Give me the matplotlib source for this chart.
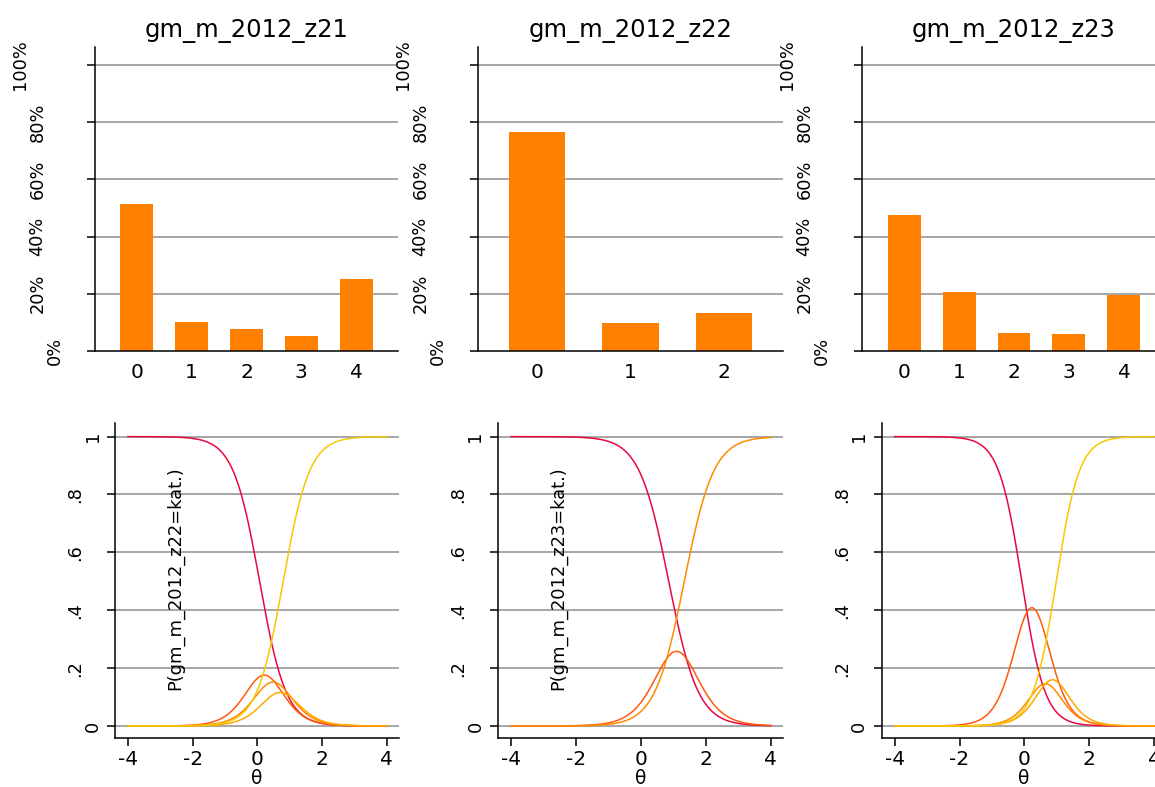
import numpy as np
import matplotlib
matplotlib.use("Agg")
import matplotlib.pyplot as plt
from matplotlib import transforms

plt.rcParams['font.family'] = ['DejaVu Sans']

# ---- figure size (pixels at 100 dpi) ----
W, H = 1155, 787
DPI = 100

# ---- item names ----
items = ["gm_m_2012_z21", "gm_m_2012_z22", "gm_m_2012_z23"]

# ---- observed response distributions (percent) ----
cats_z21 = [0, 1, 2, 3, 4]
pct_z21 = [51.4, 10.1, 7.8, 5.2, 25.2]

cats_z22 = [0, 1, 2]
pct_z22 = [76.6, 9.8, 13.3]

cats_z23 = [0, 1, 2, 3, 4]
pct_z23 = [47.6, 20.6, 6.3, 5.8, 19.5]

# ---- graded response model estimates (discrimination, thresholds) ----
a_z21 = 2.45
b_z21 = [0.07, 0.36, 0.61, 0.80]

a_z22 = 2.2
b_z22 = [0.86, 1.34]

a_z23 = 2.8
b_z23 = [-0.08, 0.54, 0.75, 0.98]

# y titles of the curve panels
curve_ytitles = ["P(gm_m_2012_z22=kat.)", "P(gm_m_2012_z23=kat.)", ""]

# ---- tick labels ----
pct_ticks = [0, 20, 40, 60, 80, 100]
pct_ticklabels = ["0%", "20%", "40%", "60%", "80%", "100%"]
prob_ticks = [0, 0.2, 0.4, 0.6, 0.8, 1.0]
prob_ticklabels = ["0", ".2", ".4", ".6", ".8", "1"]
theta_ticks = [-4, -2, 0, 2, 4]
theta_ticklabels = ["-4", "-2", "0", "2", "4"]

# ---- styling ----
bar_color = "#FF8000"
cat_colors = ["#E8083E", "#FF5A0A", "#FF8A00", "#FFA800", "#F5C800"]
grid_color = "#8E8E8E"
LW = 1.1
TICK_FS = 14.5
YTICK_FS = 12.8
TITLE_FS = 17.5


def grm_probs(theta, a, b):
    """Category probabilities of a graded response model."""
    cum = [np.ones_like(theta)]
    for bk in b:
        cum.append(1.0 / (1.0 + np.exp(-a * (theta - bk))))
    cum.append(np.zeros_like(theta))
    return [cum[k] - cum[k + 1] for k in range(len(b) + 1)]


fig = plt.figure(figsize=(W / DPI, H / DPI), dpi=DPI)
fig.patch.set_facecolor("white")


def add_px_axes(x0, x1, y0, y1):
    return fig.add_axes([x0 / W, 1 - y1 / H, (x1 - x0) / W, (y1 - y0) / H])


def style_axes(ax):
    for s in ("top", "right"):
        ax.spines[s].set_visible(False)
    for s in ("left", "bottom"):
        ax.spines[s].set_linewidth(LW)
        ax.spines[s].set_color("black")
    ax.set_facecolor("white")


def rotated_yticklabels(ax, ticks, labels, size):
    ax.set_yticks(ticks)
    ax.set_yticklabels([])
    base = transforms.blended_transform_factory(ax.transAxes, ax.transData)
    for t, lab in zip(ticks, labels):
        dx = -(5 + 17.5 * len(lab)) / DPI
        tr = base + transforms.ScaledTranslation(dx, 0, fig.dpi_scale_trans)
        ax.text(0, t, lab, transform=tr, rotation=90, ha="center",
                va="center", fontsize=size, clip_on=False)


# ---- top row: bar charts ----
bar_sets = [(cats_z21, pct_z21), (cats_z22, pct_z22), (cats_z23, pct_z23)]
top_x = [(95, 398), (478, 783), (862, 1166)]
pads = [0.765, 0.63, 0.765]

for (cats, pct), (x0, x1), pad, name in zip(bar_sets, top_x, pads, items):
    ax = add_px_axes(x0, x1, 47, 351)
    style_axes(ax)
    for g in pct_ticks[1:]:
        ax.axhline(g, color=grid_color, lw=LW, zorder=0)
    ax.bar(cats, pct, width=0.6, color=bar_color, zorder=2)
    ax.set_xlim(-pad, cats[-1] + pad)
    ax.set_ylim(0, 106.3)
    ax.set_xticks(cats)
    ax.set_xticklabels([str(c) for c in cats], fontsize=TICK_FS)
    ax.tick_params(axis="x", length=0, pad=9)
    ax.tick_params(axis="y", length=5.8, width=LW, direction="out")
    rotated_yticklabels(ax, pct_ticks, pct_ticklabels, YTICK_FS)
    ax.set_title(name, fontsize=TITLE_FS, pad=7)

# ---- bottom row: category characteristic curves ----
theta = np.linspace(-4, 4, 401)
params = [(a_z21, b_z21), (a_z22, b_z22), (a_z23, b_z23)]
bot_x = [(115, 399), (498, 783), (881.7, 1166.5)]

for (a, b), (x0, x1), ytitle in zip(params, bot_x, curve_ytitles):
    ax = add_px_axes(x0, x1, 423, 738)
    style_axes(ax)
    for g in prob_ticks:
        ax.axhline(g, color=grid_color, lw=LW, zorder=0)
    for k, p in enumerate(grm_probs(theta, a, b)):
        ax.plot(theta, p, color=cat_colors[k], lw=LW, zorder=2)
    ax.set_xlim(-4.4, 4.38)
    ax.set_ylim(-0.0415, 1.047)
    ax.set_xticks(theta_ticks)
    ax.set_xticklabels(theta_ticklabels, fontsize=TICK_FS)
    ax.tick_params(axis="x", length=5.8, width=LW, direction="out", pad=2.5)
    ax.tick_params(axis="y", length=5.8, width=LW, direction="out")
    rotated_yticklabels(ax, prob_ticks, prob_ticklabels, YTICK_FS)
    ax.set_xlabel("\u03b8", fontsize=13.5, labelpad=0)
    if ytitle:
        ax.text(60 / (x1 - x0), 0.506, ytitle, transform=ax.transAxes,
                rotation=90, ha="center", va="center", fontsize=12.9)

fig.savefig("out.png", dpi=DPI, facecolor="white")
